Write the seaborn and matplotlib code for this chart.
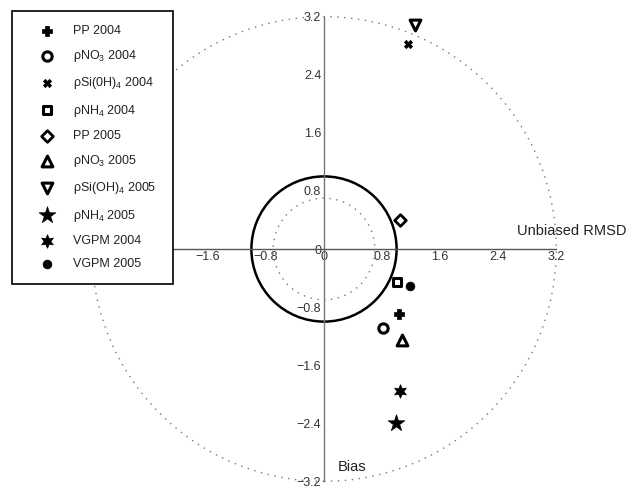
import numpy as np
import pandas as pd
import matplotlib
matplotlib.use("Agg")
import matplotlib.pyplot as plt
import seaborn as sns
from matplotlib.patches import Circle
from matplotlib.ticker import FixedLocator, FixedFormatter

sns.set_theme(style="white")
plt.rcParams['font.family'] = ['Liberation Sans', 'DejaVu Sans']
plt.rcParams['mathtext.fontset'] = 'custom'
plt.rcParams['mathtext.rm'] = 'Liberation Sans'
plt.rcParams['mathtext.it'] = 'Liberation Sans'

# ---- data ----
labels = ["PP 2004", r"ρNO$_3$ 2004", r"ρSi(0H)$_4$ 2004", r"ρNH$_4$ 2004",
          "PP 2005", r"ρNO$_3$ 2005", r"ρSi(OH)$_4$ 2005", r"ρNH$_4$ 2005",
          "VGPM 2004", "VGPM 2005"]
unbiased_rmsd = [1.03, 0.81, 1.16, 1.01, 1.05, 1.07, 1.26, 0.99, 1.04, 1.18]
bias = [-0.90, -1.09, 2.83, -0.45, 0.40, -1.26, 3.08, -2.39, -1.96, -0.51]
tick_vals = [-3.2, -2.4, -1.6, -0.8, 0.0, 0.8, 1.6, 2.4, 3.2]
y_tick_text = ["−3.2", "−2.4", "−1.6", "−0.8", "0", "0.8", "1.6", "2.4", "3.2"]
# the two leftmost x labels sit under the legend in the reference
x_tick_text = ["", "", "−1.6", "−0.8", "0", "0.8", "1.6", "2.4", "3.2"]
minor_vals = [round(-3.2 + 0.2 * i, 1) for i in range(33)]

markers = ['P', 'o', 'X', 's', 'D', '^', 'v', '*', (6, 1, 0), 'o']
faces = ['black', 'white', 'black', 'white', 'white', 'white', 'white', 'black', 'black', 'black']
sizes = [45, 45, 35, 40, 35, 60, 60, 160, 95, 40]
lws = [0.5, 2.2, 0.5, 2.2, 2.0, 2.2, 2.2, 0.5, 0.5, 0.5]

df = pd.DataFrame({"x": unbiased_rmsd, "y": bias, "label": labels})

W, H = 632, 486
fig = plt.figure(figsize=(W / 100, H / 100), dpi=100)
ax = fig.add_axes([0, 0, 1, 1])
ppu = 72.6
cx, cy = 324, 249
ax.set_xlim(-cx / ppu, (W - cx) / ppu)
ax.set_ylim(-(H - cy) / ppu, cy / ppu)

# reference circles
ax.add_patch(Circle((0, 0), 3.2, fill=False, ec='#777777', lw=1.0, ls=(0, (1, 4))))
ax.add_patch(Circle((0, 0), 0.7, fill=False, ec='#777777', lw=1.0, ls=(0, (1, 4))))
ax.add_patch(Circle((0, 0), 1.0, fill=False, ec='black', lw=1.8))

for i, row in df.iterrows():
    sns.scatterplot(x=[row.x], y=[row.y], ax=ax, marker=markers[i], s=sizes[i],
                    color=faces[i], edgecolor='black', linewidth=lws[i],
                    label=row.label, zorder=4)

# axes through origin
for side in ['top', 'right']:
    ax.spines[side].set_visible(False)
ax.spines['left'].set_position('zero')
ax.spines['bottom'].set_position('zero')
for side in ['left', 'bottom']:
    ax.spines[side].set_bounds(-3.2, 3.2)
    ax.spines[side].set_linewidth(1.0)
ax.spines['bottom'].set_color('#555555')
ax.spines['left'].set_color('#777777')

ax.xaxis.set_major_locator(FixedLocator(tick_vals))
ax.xaxis.set_major_formatter(FixedFormatter(x_tick_text))
ax.yaxis.set_major_locator(FixedLocator(tick_vals))
ax.yaxis.set_major_formatter(FixedFormatter(y_tick_text))
ax.xaxis.set_minor_locator(FixedLocator(minor_vals))
ax.yaxis.set_minor_locator(FixedLocator(minor_vals))
ax.tick_params(axis='both', which='both', direction='in', length=3.5, width=0.8,
               color='#333333', labelsize=9, labelcolor='#333333')
ax.tick_params(axis='x', which='both', pad=1.5)
ax.tick_params(axis='y', which='both', pad=2)
ax.grid(False)

ax.text(2.66, 0.25, "Unbiased RMSD", fontsize=10.5, va='center', ha='left', color='#222222')
ax.text(0.19, -3.0, "Bias", fontsize=10.5, va='center', ha='left', color='#222222')

handles, leg_labels = ax.get_legend_handles_labels()
ax.get_legend().remove()
leg = fig.legend(handles, leg_labels, loc='upper left',
                 bbox_to_anchor=(12 / W, 1 - 16 / H, 161 / W, 0.01),
                 bbox_transform=fig.transFigure, borderaxespad=0, mode='expand',
                 fontsize=9, frameon=True, fancybox=False, shadow=False,
                 borderpad=1.1, handlelength=3.4, handletextpad=0.38,
                 labelspacing=0.9, scatterpoints=1)
leg.get_frame().set_edgecolor('black')
leg.get_frame().set_linewidth(1.2)
leg.get_frame().set_alpha(1.0)
for t in leg.get_texts():
    t.set_color('#222222')
leg.set_zorder(10)

fig.savefig("out.png", dpi=100)
